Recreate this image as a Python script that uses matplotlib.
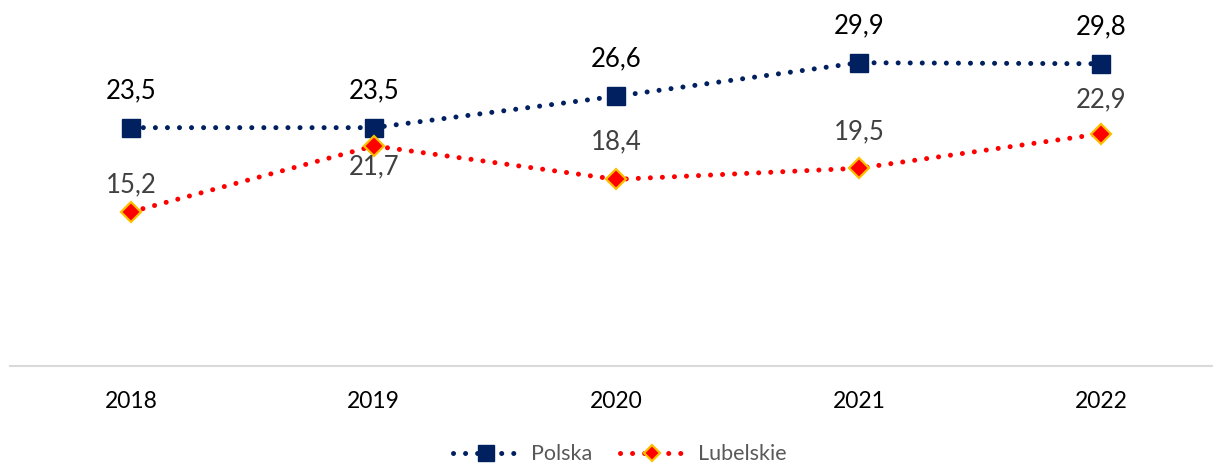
import matplotlib
matplotlib.use('Agg')
import matplotlib.pyplot as plt

years = ['2018', '2019', '2020', '2021', '2022']
polska = [23.5, 23.5, 26.6, 29.9, 29.8]
lubelskie = [15.2, 21.7, 18.4, 19.5, 22.9]
# label offsets in pixels (above > 0, below < 0) for Lubelskie
lub_label_dy = [27, -21, 38, 36, 34]

plt.rcParams['font.family'] = ['Lato', 'DejaVu Sans']

fig = plt.figure(figsize=(12.13, 4.63), dpi=100)
ax = fig.add_axes([10 / 1213, 1 - 366 / 463, 1203 / 1213, 355 / 463])

x = list(range(len(years)))

ax.plot(x, polska, color='#002060', lw=3.6, linestyle=(0, (0.01, 2.4)),
        dash_capstyle='round', marker='s', ms=13, mfc='#002060',
        mec='#002060', label='Polska', zorder=3)
ax.plot(x, lubelskie, color='#FF0000', lw=3.6, linestyle=(0, (0.01, 2.4)),
        dash_capstyle='round', marker='D', ms=10, mfc='#FF0000',
        mec='#FFC000', mew=1.6, label='Lubelskie', zorder=3)

for xi, v in zip(x, polska):
    ax.annotate(f'{v:.1f}'.replace('.', ','), (xi, v), xytext=(0, 37 * 0.72),
                textcoords='offset points', ha='center', va='center',
                fontsize=18.5, color='black')
for xi, v, dy in zip(x, lubelskie, lub_label_dy):
    ax.annotate(f'{v:.1f}'.replace('.', ','), (xi, v), xytext=(0, dy * 0.72),
                textcoords='offset points', ha='center', va='center',
                fontsize=18.5, color='#404040')

ax.set_xlim(-0.5, 4.46)
ax.set_ylim(0, 35)
ax.set_xticks(x)
ax.set_xticklabels(years, fontsize=16.5, color='black')
ax.tick_params(axis='x', length=0, pad=18)
ax.set_yticks([])
for s in ['top', 'right', 'left']:
    ax.spines[s].set_visible(False)
ax.spines['bottom'].set_color('#D9D9D9')
ax.spines['bottom'].set_linewidth(1.5)

leg = fig.legend(loc='lower center', bbox_to_anchor=(0.511, -0.045), ncol=2,
                 frameon=False, fontsize=15.5, handlelength=3.0,
                 columnspacing=1.3, handletextpad=0.6, markerscale=0.85)
for t in leg.get_texts():
    t.set_color('#595959')

fig.savefig('out.png', dpi=100)
